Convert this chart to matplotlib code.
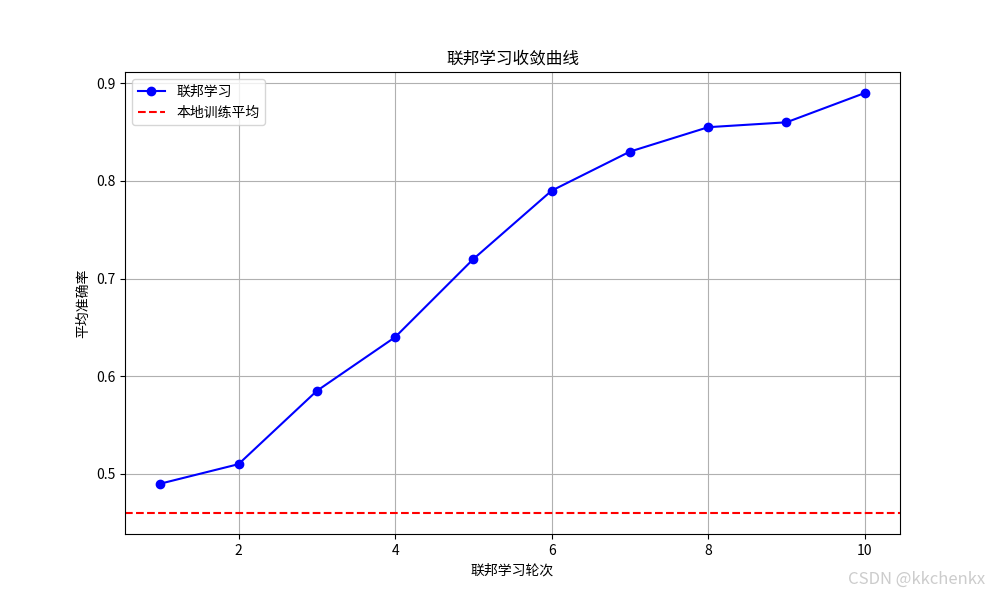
import matplotlib
matplotlib.use('Agg')
from matplotlib import pyplot as plt

plt.rcParams['font.family'] = ['Noto Sans CJK SC', 'DejaVu Sans']
plt.rcParams['axes.unicode_minus'] = False

rounds = [1, 2, 3, 4, 5, 6, 7, 8, 9, 10]
fed_acc = [0.49, 0.51, 0.585, 0.64, 0.72, 0.79, 0.83, 0.855, 0.86, 0.89]
local_avg = 0.46

fig = plt.figure(figsize=(10, 6), dpi=100)
plt.plot(rounds, fed_acc, marker='o', color='blue', label='联邦学习')
plt.axhline(local_avg, color='red', linestyle='--', label='本地训练平均')
plt.title('联邦学习收敛曲线')
plt.xlabel('联邦学习轮次')
plt.ylabel('平均准确率')
plt.legend(loc='upper left')
plt.grid(True)
fig.text(0.985, 0.02, 'CSDN @kkchenkx', ha='right', va='bottom',
         fontsize=12, color='#cccccc')
plt.savefig('out.png')
